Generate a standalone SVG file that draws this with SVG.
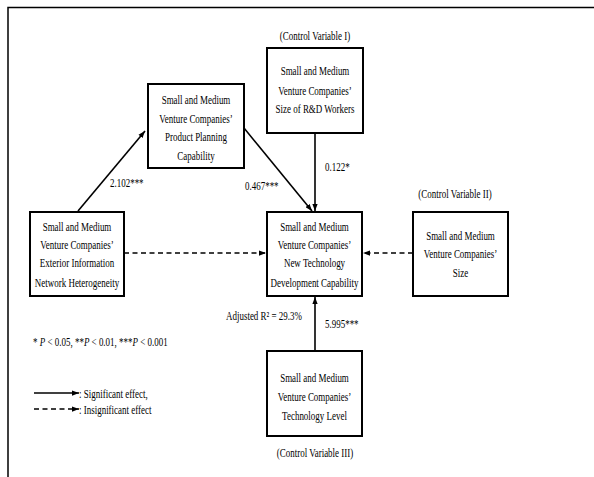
<svg xmlns="http://www.w3.org/2000/svg" width="594" height="477" viewBox="0 0 594 477">
<style>
.t{font-family:"Liberation Serif","Times New Roman",serif;font-size:13px;fill:#000;text-anchor:middle}
.s{font-family:"Liberation Serif","Times New Roman",serif;font-size:13px;fill:#000}
.box{fill:#fff;stroke:#000;stroke-width:2}
.c{stroke:#000;stroke-width:1.6;fill:none}
.d{stroke:#000;stroke-width:1.6;fill:none;stroke-dasharray:5,3.5}
</style>
<defs>
<marker id="ah" viewBox="0 0 8 6" refX="8" refY="3" markerWidth="7" markerHeight="5.5" markerUnits="userSpaceOnUse" orient="auto">
<path d="M0,0 L8,3 L0,6 Z" fill="#000"/>
</marker>
</defs>
<rect width="594" height="477" fill="#fff"/>
<path d="M8,477 L8,7.5 L594,7.5" fill="none" stroke="#000" stroke-width="1.5"/>

<g id="connectors">
<line class="c" x1="78" y1="211" x2="145" y2="131" marker-end="url(#ah)"/>
<line class="c" x1="244" y1="128" x2="312" y2="211" marker-end="url(#ah)"/>
<line class="c" x1="315" y1="133" x2="315" y2="211" marker-end="url(#ah)"/>
<line class="d" x1="124" y1="253" x2="266" y2="253" marker-end="url(#ah)"/>
<line class="d" x1="413" y1="253" x2="363" y2="253" marker-end="url(#ah)"/>
<line class="c" x1="315" y1="351" x2="315" y2="297" marker-end="url(#ah)"/>
</g>

<g id="product">
<rect class="box" x="148" y="84" width="96" height="84"/>
<text class="t" transform="translate(196,104) scale(0.69,1)">Small and Medium</text>
<text class="t" transform="translate(196,122.5) scale(0.69,1)">Venture Companies’</text>
<text class="t" transform="translate(196,141) scale(0.69,1)">Product Planning</text>
<text class="t" transform="translate(196,160) scale(0.69,1)">Capability</text>
</g>

<g id="rd">
<text class="t" transform="translate(315,40) scale(0.69,1)">(Control Variable I)</text>
<rect class="box" x="267" y="48" width="96" height="85"/>
<text class="t" transform="translate(315,75) scale(0.69,1)">Small and Medium</text>
<text class="t" transform="translate(315,94.5) scale(0.69,1)">Venture Companies’</text>
<text class="t" transform="translate(315,113) scale(0.69,1)">Size of R&amp;D Workers</text>
</g>

<g id="exterior">
<rect class="box" x="30" y="212" width="94" height="84"/>
<text class="t" transform="translate(77,230.5) scale(0.69,1)">Small and Medium</text>
<text class="t" transform="translate(77,249) scale(0.69,1)">Venture Companies’</text>
<text class="t" transform="translate(77,267) scale(0.69,1)">Exterior Information</text>
<text class="t" transform="translate(77,286.5) scale(0.69,1)">Network Heterogeneity</text>
</g>

<g id="center">
<rect class="box" x="267" y="212" width="95" height="84"/>
<text class="t" transform="translate(314.5,230.5) scale(0.69,1)">Small and Medium</text>
<text class="t" transform="translate(314.5,249) scale(0.69,1)">Venture Companies’</text>
<text class="t" transform="translate(314.5,267) scale(0.69,1)">New Technology</text>
<text class="t" transform="translate(314.5,286.5) scale(0.69,1)">Development  Capability</text>
</g>

<g id="size">
<text class="t" transform="translate(455,198) scale(0.69,1)">(Control Variable II)</text>
<rect class="box" x="413" y="212" width="95" height="84"/>
<text class="t" transform="translate(460.5,240) scale(0.69,1)">Small and Medium</text>
<text class="t" transform="translate(460.5,258) scale(0.69,1)">Venture Companies’</text>
<text class="t" transform="translate(460.5,276.5) scale(0.69,1)">Size</text>
</g>

<g id="techlevel">
<rect class="box" x="267" y="351" width="95" height="85"/>
<text class="t" transform="translate(314.5,382) scale(0.69,1)">Small and Medium</text>
<text class="t" transform="translate(314.5,401) scale(0.69,1)">Venture Companies’</text>
<text class="t" transform="translate(314.5,419.5) scale(0.69,1)">Technology  Level</text>
<text class="t" transform="translate(315,457) scale(0.69,1)">(Control Variable III)</text>
</g>

<g id="labels">
<text class="s" transform="translate(110,187) scale(0.69,1)">2.102***</text>
<text class="s" transform="translate(245,190) scale(0.69,1)">0.467***</text>
<text class="s" transform="translate(325,171) scale(0.69,1)">0.122*</text>
<text class="s" transform="translate(226,320) scale(0.69,1)">Adjusted R² = 29.3%</text>
<text class="s" transform="translate(325,327.5) scale(0.69,1)">5.995***</text>
</g>

<g id="legend">
<text class="s" transform="translate(33,346) scale(0.69,1)">* <tspan font-style="italic">P</tspan> &lt; 0.05, **<tspan font-style="italic">P</tspan> &lt; 0.01, ***<tspan font-style="italic">P</tspan> &lt; 0.001</text>
<line class="c" x1="34" y1="393" x2="79" y2="393" marker-end="url(#ah)"/>
<text class="s" transform="translate(79,397.5) scale(0.69,1)">: Significant effect,</text>
<line class="d" x1="34" y1="409" x2="79" y2="409" marker-end="url(#ah)"/>
<text class="s" transform="translate(79,413.5) scale(0.69,1)">: Insignificant effect</text>
</g>
</svg>
